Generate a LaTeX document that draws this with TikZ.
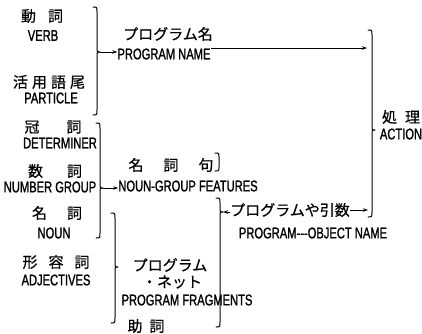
\documentclass[tikz,border=0pt]{standalone}
\usepackage{fontspec}
\setmainfont{Liberation Sans}
\newfontfamily\jpf[FakeBold=0.6]{Noto Sans CJK JP}
\newfontfamily\cnd[FakeStretch=0.72,FakeBold=1.2]{Liberation Sans}
\usetikzlibrary{arrows.meta}
\tikzset{
  en/.style={inner sep=0pt, font=\cnd\fontsize{15.5}{15.5}\selectfont},
  jp/.style={inner sep=0pt, font=\jpf\fontsize{15}{15}\selectfont},
  arr/.style={line width=0.9pt, -{Stealth[length=5pt,width=3.5pt]}},
  arl/.style={line width=0.9pt, {Stealth[length=5pt,width=3.5pt]}-},
  brc/.style={line width=1pt, line cap=round, line join=round}
}
% x, top, tip, bottom
\newcommand\mybrace[4]{%
  \draw[brc] (#1-4,#2) .. controls (#1,#2) .. (#1,#2+5) -- (#1,#3-3)
    .. controls (#1,#3) .. (#1+3,#3) .. controls (#1,#3) .. (#1,#3+3)
    -- (#1,#4-5) .. controls (#1,#4) .. (#1-4,#4);
}
\begin{document}
\begin{tikzpicture}[x=1pt,y=-1pt]
\useasboundingbox (0,0) rectangle (422,333);
% left column
\node[jp] (v1jp) at (42,16) {動\hspace{12pt}詞};
\node[en] (v1en) at (43,35.5) {VERB};
\node[jp] (v2jp) at (49,82) {活\hspace{4pt}用\hspace{4pt}語\hspace{4pt}尾};
\node[en] (v2en) at (51,98) {PARTICLE};
\node[jp] (d1jp) at (53,127) {冠\hspace{27pt}詞};
\node[en] (d1en) at (60,143) {DETERMINER};
\node[jp] (n1jp) at (55,171) {数\hspace{24pt}詞};
\node[en] (n1en) at (50,187) {NUMBER GROUP};
\node[jp] (n2jp) at (57,213) {名\hspace{20pt}詞};
\node[en] (n2en) at (54,233) {NOUN};
\node[jp] (a1jp) at (56,262) {形\hspace{11pt}容\hspace{11pt}詞};
\node[en] (a1en) at (56,280) {ADJECTIVES};
% middle
\node[jp] (pnjp) at (168,34) {プログラム名};
\node[en] (pnen) at (164,54) {PROGRAM NAME};
\node[jp] (ngjp) at (171,165) {名\hspace{20pt}詞\hspace{20pt}句};
\node[en] (ngen) at (188,186) {NOUN-GROUP FEATURES};
\node[jp] (pfjp1) at (170,265) {プログラム};
\node[jp] (pfjp2) at (172,282) {・ネット};
\node[en] (pfen) at (187,300) {PROGRAM FRAGMENTS};
\node[jp] (pfjp3) at (146,326) {助\hspace{7pt}詞};
% right
\node[jp] (objp) at (290,210) {プログラムや引数};
\node[en] (oben) at (313,233) {PROGRAM-{}-{}-OBJECT NAME};
\node[jp] (acjp) at (401,117) {処\hspace{8pt}理};
\node[en] (acen) at (401,134) {ACTION};
% braces
\mybrace{97}{7}{52}{115}
\mybrace{100}{123}{188}{238}
\mybrace{115}{213}{267}{323}
\mybrace{220}{198}{212}{327}
\mybrace{372}{30}{130}{217}
\draw[brc] (215,153) .. controls (219,153) .. (219,157) -- (219,167)
  .. controls (219,171) .. (215,171);
% brace tips and arrow ends
\coordinate (b1) at (100,52);
\coordinate (b2) at (103,188);
\coordinate (b3) at (223,212);
\coordinate (t5a) at (367,48);
\coordinate (t5b) at (368,210);
% connectors
\draw[arr] (b1) -- (pnen.west |- b1);
\draw[arr] (pnen.east |- t5a) -- (t5a);
\draw[arr] (b2) -- (ngen.west |- b2);
\draw[arl] (b3) -- (objp.west |- b3);
\draw[arr] (objp.east |- t5b) -- (t5b);
\end{tikzpicture}
\end{document}
